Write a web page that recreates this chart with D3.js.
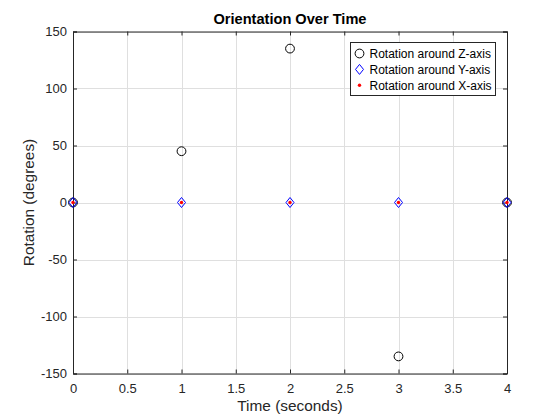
<!DOCTYPE html>
<html>
<head>
<meta charset="utf-8">
<script src="https://cdn.jsdelivr.net/npm/d3@7"></script>
<style>
  body { margin: 0; background: #fff; }
  svg { display: block; font-family: "Liberation Sans", Arial, sans-serif; }
</style>
</head>
<body>
<div id="chart"></div>
<script>
// Data
const time = [0, 1, 2, 3, 4];
const rotZ = [0, 45, 135, -135, 0];
const rotY = [0, 0, 0, 0, 0];
const rotX = [0, 0, 0, 0, 0];
const xTicks = [0, 0.5, 1, 1.5, 2, 2.5, 3, 3.5, 4];
const yTicks = [-150, -100, -50, 0, 50, 100, 150];
const legendLabels = ['Rotation around Z-axis', 'Rotation around Y-axis', 'Rotation around X-axis'];

const width = 560, height = 420;
const margin = {top: 31.5, right: 53, bottom: 46.5, left: 73};
const axisColor = '#262626';

const svg = d3.select('#chart').append('svg')
    .attr('width', width)
    .attr('height', height);

const x = d3.scaleLinear().domain([0, 4]).range([margin.left, width - margin.right]);
const y = d3.scaleLinear().domain([-150, 150]).range([height - margin.bottom, margin.top]);

// Grid
const grid = svg.append('g').attr('stroke', '#dfdfdf').attr('stroke-width', 1);
grid.selectAll('.gx').data(xTicks).join('line')
    .attr('x1', d => Math.round(x(d)) + 0.5).attr('x2', d => Math.round(x(d)) + 0.5)
    .attr('y1', y(-150)).attr('y2', y(150));
grid.selectAll('.gy').data(yTicks).join('line')
    .attr('y1', d => Math.round(y(d)) + 0.5).attr('y2', d => Math.round(y(d)) + 0.5)
    .attr('x1', x(0)).attr('x2', x(4));

// Axes (ticks inward, box on)
const tickLen = 4;
svg.append('g')
    .attr('transform', `translate(0,${y(-150)})`)
    .call(d3.axisBottom(x).tickValues(xTicks).tickSize(-tickLen).tickPadding(10.5).tickFormat(d => String(d)))
    .call(g => g.selectAll('text').attr('font-size', 13).attr('fill', axisColor));
svg.append('g')
    .attr('transform', `translate(0,${y(150)})`)
    .call(d3.axisTop(x).tickValues(xTicks).tickSize(-tickLen).tickFormat(''));
svg.append('g')
    .attr('transform', `translate(${x(0)},0)`)
    .call(d3.axisLeft(y).tickValues(yTicks).tickSize(-tickLen).tickPadding(6).tickFormat(d => String(d)))
    .call(g => g.selectAll('text').attr('font-size', 13).attr('fill', axisColor));
svg.append('g')
    .attr('transform', `translate(${x(4)},0)`)
    .call(d3.axisRight(y).tickValues(yTicks).tickSize(-tickLen).tickFormat(''));
svg.selectAll('.domain, .tick line').attr('stroke', axisColor);
svg.selectAll('text').attr('font-family', '"Liberation Sans", Arial, sans-serif');

// Markers
const diamond = s => `M0,${-s}L${s * 0.8},0L0,${s}L${-s * 0.8},0Z`;
const plot = svg.append('g');
plot.selectAll('.z').data(time).join('circle')
    .attr('cx', d => x(d)).attr('cy', (d, i) => y(rotZ[i])).attr('r', 4.4)
    .attr('fill', 'none').attr('stroke', '#000').attr('stroke-width', 1);
plot.selectAll('.y').data(time).join('path')
    .attr('d', diamond(5))
    .attr('transform', (d, i) => `translate(${x(d)},${y(rotY[i])})`)
    .attr('fill', 'none').attr('stroke', '#0000ff').attr('stroke-width', 1);
plot.selectAll('.x').data(time).join('circle')
    .attr('cx', d => x(d)).attr('cy', (d, i) => y(rotX[i])).attr('r', 1.7)
    .attr('fill', '#ff0000');

// Labels
svg.append('text')
    .attr('x', (x(0) + x(4)) / 2).attr('y', 24)
    .attr('text-anchor', 'middle').attr('font-size', 14.6).attr('font-weight', 'bold')
    .attr('fill', '#000').text('Orientation Over Time');
svg.append('text')
    .attr('x', (x(0) + x(4)) / 2).attr('y', 411)
    .attr('text-anchor', 'middle').attr('font-size', 15.4)
    .attr('fill', axisColor).text('Time (seconds)');
svg.append('text')
    .attr('transform', `translate(34,${(y(-150) + y(150)) / 2}) rotate(-90)`)
    .attr('text-anchor', 'middle').attr('font-size', 15.4)
    .attr('fill', axisColor).text('Rotation (degrees)');

// Legend
const lg = svg.append('g').attr('transform', 'translate(350.5,42.5)');
lg.append('rect').attr('width', 145).attr('height', 53)
    .attr('fill', '#fff').attr('stroke', axisColor).attr('stroke-width', 1);
const rowY = i => 11 + i * 15.9;
lg.append('circle').attr('cx', 9).attr('cy', rowY(0)).attr('r', 4.4)
    .attr('fill', 'none').attr('stroke', '#000');
lg.append('path').attr('d', diamond(5)).attr('transform', `translate(9,${rowY(1)})`)
    .attr('fill', 'none').attr('stroke', '#0000ff');
lg.append('circle').attr('cx', 9).attr('cy', rowY(2)).attr('r', 1.7).attr('fill', '#ff0000');
lg.selectAll('.lt').data(legendLabels).join('text')
    .attr('x', 19).attr('y', (d, i) => rowY(i) + 4.3)
    .attr('font-size', 12).attr('fill', '#000').text(d => d);
</script>
</body>
</html>
